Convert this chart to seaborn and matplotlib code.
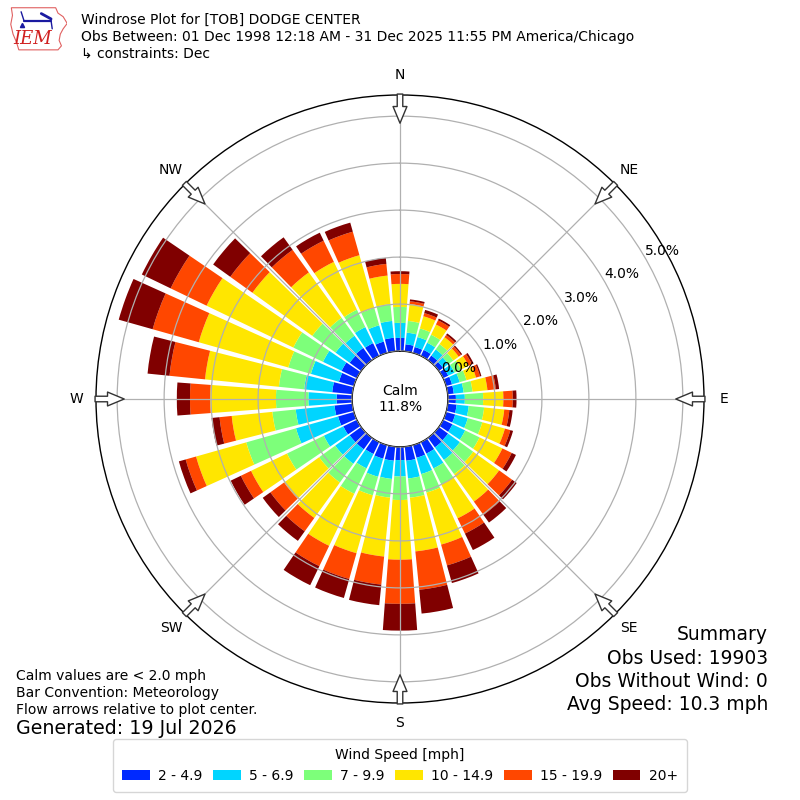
import numpy as np
import matplotlib
matplotlib.use("Agg")
import matplotlib.pyplot as plt
import seaborn as sns
from matplotlib.patches import Polygon

sns.set_style("white", rc={"axes.edgecolor": "black", "text.color": "black",
                           "xtick.color": "black", "ytick.color": "black",
                           "grid.color": "#b0b0b0"})
plt.rcParams["font.family"] = ["DejaVu Sans"]

# wind directions (deg, meteorological) and frequency (%) per speed bin
directions = np.arange(0, 360, 10)
speed_bins = ["2 - 4.9", "5 - 6.9", "7 - 9.9", "10 - 14.9", "15 - 19.9", "20+"]
f_2_5 = [0.28, 0.15, 0.13, 0.14, 0.12, 0.11, 0.12, 0.13, 0.13, 0.17, 0.19, 0.20,
         0.22, 0.24, 0.25, 0.27, 0.28, 0.30, 0.28, 0.30, 0.30, 0.28, 0.30, 0.30,
         0.32, 0.35, 0.38, 0.33, 0.43, 0.33, 0.36, 0.30, 0.32, 0.30, 0.25, 0.29]
f_5_7 = [0.32, 0.25, 0.22, 0.17, 0.16, 0.14, 0.15, 0.17, 0.21, 0.19, 0.26, 0.28,
         0.30, 0.31, 0.33, 0.35, 0.36, 0.38, 0.35, 0.39, 0.40, 0.34, 0.38, 0.38,
         0.46, 0.93, 0.83, 0.60, 0.60, 0.62, 0.44, 0.37, 0.32, 0.38, 0.36, 0.36]
f_7_10 = [0.34, 0.25, 0.19, 0.19, 0.14, 0.13, 0.15, 0.15, 0.19, 0.39, 0.33, 0.32,
          0.34, 0.35, 0.37, 0.38, 0.41, 0.41, 0.50, 0.40, 0.41, 0.60, 0.49, 0.42,
          0.87, 1.10, 0.50, 0.69, 0.54, 0.50, 0.70, 0.61, 0.47, 0.41, 0.38, 0.36]
f_10_15 = [0.49, 0.36, 0.27, 0.24, 0.18, 0.14, 0.18, 0.21, 0.32, 0.43, 0.43, 0.50,
           0.54, 0.68, 0.72, 0.80, 1.15, 1.15, 1.27, 1.26, 1.28, 1.23, 0.93, 0.92,
           0.85, 1.11, 0.87, 1.40, 1.58, 1.98, 2.05, 1.57, 1.19, 1.13, 1.17, 0.61]
f_15_20 = [0.21, 0.06, 0.07, 0.10, 0.06, 0.06, 0.08, 0.09, 0.18, 0.20, 0.11, 0.12,
           0.22, 0.34, 0.35, 0.36, 0.46, 0.82, 0.94, 0.60, 0.57, 0.48, 0.35, 0.36,
           0.24, 0.23, 0.26, 0.43, 0.76, 1.02, 0.85, 0.58, 0.59, 0.50, 0.52, 0.25]
f_20 = [0.06, 0.04, 0.07, 0.04, 0.04, 0.03, 0.04, 0.03, 0.07, 0.08, 0.07, 0.06,
        0.10, 0.12, 0.20, 0.39, 0.39, 0.51, 0.57, 0.44, 0.42, 0.45, 0.25, 0.20,
        0.24, 0.15, 0.17, 0.28, 0.47, 0.75, 0.68, 0.45, 0.33, 0.19, 0.20, 0.13]
calm_pct = 11.8
ring_ticks = [0, 1, 2, 3, 4, 5]
compass = ["N", "NE", "E", "SE", "S", "SW", "W", "NW"]

title_lines = ["Windrose Plot for [TOB] DODGE CENTER",
               "Obs Between: 01 Dec 1998 12:18 AM - 31 Dec 2025 11:55 PM America/Chicago",
               "\u21b3 constraints: Dec"]
note_lines = ["Calm values are < 2.0 mph", "Bar Convention: Meteorology",
              "Flow arrows relative to plot center."]
summary_lines = ["Summary", "Obs Used: 19903", "Obs Without Wind: 0",
                 "Avg Speed: 10.3 mph"]

series = [f_2_5, f_5_7, f_7_10, f_10_15, f_15_20, f_20]
colors = plt.get_cmap("jet")(np.arange(1, 7) / 6.0)

r_max = 5.45
r_origin = -1.02

fig = plt.figure(figsize=(8, 8), dpi=100)
ax = fig.add_axes([0.12, 0.12125, 0.76, 0.76], projection="polar")
ax.set_theta_zero_location("N")
ax.set_theta_direction(-1)

theta = np.radians(directions)
bottom = np.zeros(len(directions))
for vals, col, lab in zip(series, colors, speed_bins):
    vals = np.asarray(vals)
    ax.bar(theta, vals, width=np.radians(8.5), bottom=bottom, color=col,
           label=lab, align="center", linewidth=0)
    bottom += vals

ax.set_ylim(0, r_max)
ax.set_rorigin(r_origin)
ax.set_yticks(ring_ticks)
ax.set_yticklabels(["%.1f%%" % v for v in ring_ticks], fontsize=10)
ax.set_rlabel_position(60)
ax.set_xticks(np.radians(np.arange(0, 360, 45)))
ax.set_xticklabels([])
ax.grid(True, color="#b0b0b0", lw=0.9)
ax.set_axisbelow(False)
ax.spines["polar"].set_linewidth(1.0)
ax.spines["inner"].set_linewidth(1.0)

ax.text(0, r_origin, "Calm\n%.1f%%" % calm_pct, ha="center", va="center",
        fontsize=10, transform=ax.transData)

# direction labels and inward flow arrows
for i, lab in enumerate(compass):
    th = np.radians(i * 45)
    ax.text(th, 5.87, lab, ha="center", va="center", fontsize=10,
            clip_on=False)
    ax.annotate("", xy=(th, 4.85), xytext=(th, 5.47),
                arrowprops=dict(arrowstyle="simple,head_length=0.6,head_width=0.5,tail_width=0.2",
                                fc="white", ec="#333333", lw=1.0,
                                shrinkA=0, shrinkB=0, mutation_scale=20),
                annotation_clip=False, zorder=6)

# header
for k, line in enumerate(title_lines):
    fig.text(0.101, 0.975 - k * 0.02125, line, fontsize=10, va="center")

# logo (rough Iowa outline with IEM)
lax = fig.add_axes([0.012, 0.936, 0.072, 0.056])
lax.set_xlim(0, 1)
lax.set_ylim(0, 1)
lax.axis("off")
iowa = [(0.03, 0.97), (0.80, 0.97), (0.84, 0.85), (0.93, 0.77), (1.0, 0.62),
        (0.93, 0.50), (0.88, 0.38), (0.86, 0.24), (0.90, 0.12), (0.84, 0.03),
        (0.16, 0.03), (0.12, 0.20), (0.06, 0.38), (0.02, 0.60), (0.05, 0.80)]
lax.add_patch(Polygon(iowa, closed=True, fill=False, ec="#e06060", lw=0.8))
lax.text(0.40, 0.27, "IEM", color="#d02020", fontsize=13, style="italic",
         family="DejaVu Serif", ha="center", va="center")
lax.plot([0.25, 0.72], [0.68, 0.68], color="#1a1aa0", lw=1.6)
lax.plot([0.55, 0.72], [0.84, 0.72], color="#1a1aa0", lw=2.0)
lax.plot([0.25, 0.20], [0.68, 0.88], color="#1a1aa0", lw=1.0)
lax.plot([0.22], [0.58], "^", color="#1a1aa0", ms=3)
lax.plot([0.72, 0.74], [0.68, 0.50], color="#1a1aa0", lw=1.0)

# notes
for k, line in enumerate(note_lines):
    fig.text(0.02, 1 - (676 + 17 * k) / 800.0, line, fontsize=10, va="center")
fig.text(0.02, 1 - 729 / 800.0, "Generated: 19 Jul 2026", fontsize=13.7,
         va="center")

for k, line in enumerate(summary_lines):
    fig.text(0.96, 1 - (635 + 23.3 * k) / 800.0, line, fontsize=13.5,
             va="center", ha="right")

handles, labels = ax.get_legend_handles_labels()
fig.legend(handles, labels, loc="lower center", bbox_to_anchor=(0.5, 0.01),
           ncol=6, fontsize=10, title="Wind Speed [mph]", title_fontsize=10,
           columnspacing=0.75, handletextpad=0.6, borderaxespad=0,
           borderpad=0.65, frameon=True)

fig.savefig("out.png", dpi=100)
